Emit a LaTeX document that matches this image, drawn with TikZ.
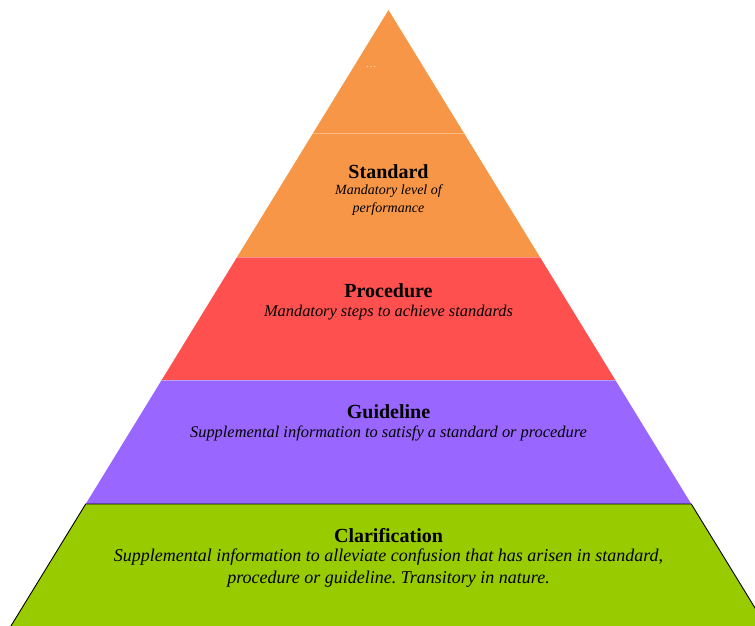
\documentclass[tikz,border=0pt]{standalone}
\usepackage{fontspec}
\setmainfont{Liberation Serif}
\usepackage{tikz}
\usepackage{tkz-euclide}
\usetikzlibrary{calc,positioning}
\definecolor{tierorange}{HTML}{F79646}
\definecolor{tierred}{HTML}{FF5050}
\definecolor{tierpurple}{HTML}{9966FF}
\definecolor{tiergreen}{HTML}{99CC00}
\frenchspacing

\begin{document}
\begin{tikzpicture}[x=1pt,y=-1pt,
    tiertitle/.style={inner sep=0pt,font=\fontsize{20}{22}\selectfont\bfseries},
    tierdesc/.style={inner sep=0pt,align=center,font=\fontsize{16.4}{21}\selectfont\itshape},
    tierline/.style={line width=0.8pt,color=white,opacity=0.35}]
                \useasboundingbox (0,0) rectangle (755,625);
                \clip (0,0) rectangle (755,625);
                \tkzDefPoint(388.5,10){T}
                \tkzDefPoint(313.1,133){L1} \tkzDefPoint(463.9,133){R1}
                \tkzDefPoint(237.1,257){L2} \tkzDefPoint(539.9,257){R2}
                \tkzDefPoint(161.7,380){L3} \tkzDefPoint(615.3,380){R3}
                \tkzDefPoint(85.7,504){L4}  \tkzDefPoint(691.3,504){R4}
                \tkzDefPoint(9.1,629){L5}  \tkzDefPoint(767.9,629){R5}
                % layers, top down
                \tkzFillPolygon[color=tierorange](T,L2,R2)
                \tkzFillPolygon[color=tierred](L2,L3,R3,R2)
                \tkzFillPolygon[color=tierpurple](L3,L4,R4,R3)
                \tkzFillPolygon[color=tiergreen](L4,L5,R5,R4)
                \tkzDrawPolygon[line width=0.9pt,color=black](L4,L5,R5,R4)
                \tkzDrawSegment[tierline](L1,R1)
                \tkzDrawSegment[tierline](L2,R2)
                \tkzDrawSegment[tierline](L3,R3)
                % texts
                \node[font=\fontsize{11}{11}\selectfont,color=white!70!tierorange] (dots) at (371,67) {\dots};
                \node[tiertitle,anchor=base] (standard) at (388.5,178.5) {Standard};
                \node[tierdesc,font=\fontsize{14}{18}\selectfont\itshape,anchor=north] (standarddesc) at (388.5,184.5) {Mandatory level of\\performance};
                \node[tiertitle,anchor=base] (procedure) at (388.5,297.5) {Procedure};
                \node[tierdesc,anchor=north] (proceduredesc) at (388.5,305) {Mandatory steps to achieve standards};
                \node[tiertitle,anchor=base] (guideline) at (388.5,418) {Guideline};
                \node[tierdesc,anchor=north] (guidelinedesc) at (388.5,426) {Supplemental information to satisfy a standard or procedure};
                \node[tiertitle,anchor=base] (clarification) at (388.5,542) {Clarification};
                \node[tierdesc,font=\fontsize{18}{22}\selectfont\itshape,anchor=north] (clarificationdesc) at (388.5,548.5) {Supplemental information to alleviate confusion that has arisen in standard,\\procedure or guideline. Transitory in nature.};
            \end{tikzpicture}
\end{document}
